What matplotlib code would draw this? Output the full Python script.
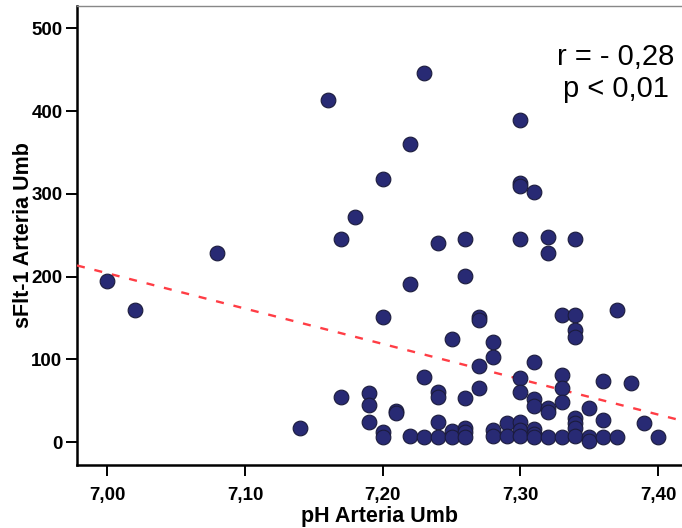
import numpy as np
import matplotlib
matplotlib.use("Agg")
import matplotlib.pyplot as plt

plt.rcParams["font.family"] = ["Liberation Sans", "DejaVu Sans"]

# ======================
# DATA
# ======================
ph_levels = [7.00, 7.02, 7.08, 7.14, 7.16, 7.17, 7.18, 7.19, 7.20, 7.21,
             7.22, 7.23, 7.24, 7.25, 7.26, 7.27, 7.28, 7.29, 7.30, 7.31,
             7.32, 7.33, 7.34, 7.35, 7.36, 7.37, 7.38, 7.39, 7.40]
sflt_at_level = [
    [195],
    [160],
    [229],
    [17],
    [414],
    [245, 55],
    [272],
    [59, 45, 24],
    [318, 151, 12, 6],
    [37, 35],
    [360, 191, 7],
    [446, 78, 6],
    [241, 60, 55, 24, 6],
    [124, 13, 6],
    [245, 201, 53, 17, 12, 6],
    [151, 147, 92, 65],
    [121, 103, 14, 7],
    [23, 7],
    [389, 313, 310, 245, 77, 61, 24, 14, 7],
    [302, 97, 52, 44, 16, 10, 6],
    [248, 228, 41, 36, 6],
    [154, 81, 65, 48, 6],
    [245, 154, 135, 127, 29, 23, 17, 7],
    [41, 6, 1],
    [74, 27, 6],
    [159, 6],
    [71],
    [23],
    [6],
]

# fitted line as drawn in the chart (value at pH 7.00, change per pH unit)
fit_at_700 = 204.0
fit_slope = -427.0

ph = np.concatenate([[p] * len(v) for p, v in zip(ph_levels, sflt_at_level)])
sflt = np.concatenate(sflt_at_level).astype(float)

x_ticks = [7.00, 7.10, 7.20, 7.30, 7.40]
y_ticks = [0, 100, 200, 300, 400, 500]
stats_text = "r = - 0,28\np < 0,01"

# ======================
# PLOT
# ======================
fig = plt.figure(figsize=(6.82, 5.28), dpi=100)
ax = fig.add_axes([0.1129, 0.1193, 0.8871, 0.8693])

xlim = (6.978, 7.4174)
ylim = (-27.8, 527)

xs = np.array(xlim)
ax.plot(xs, fit_at_700 + fit_slope * (xs - 7.0), color="#ff3d45",
        linewidth=1.7, dashes=(3.4, 4.2), zorder=3)

ax.scatter(ph, sflt, s=112, color="#282a74", edgecolors="#1b1b3c",
           linewidths=0.8, zorder=4)

ax.set_xlim(*xlim)
ax.set_ylim(*ylim)
ax.set_xticks(x_ticks)
ax.set_xticklabels([f"{t:.2f}".replace(".", ",") for t in x_ticks])
ax.set_yticks(y_ticks)
ax.tick_params(direction="out", length=8, width=1.4, labelsize=13.5,
               color="black")
ax.tick_params(axis="x", pad=8)
ax.tick_params(axis="y", pad=2.5)
for lab in ax.get_xticklabels() + ax.get_yticklabels():
    lab.set_fontweight("bold")

ax.spines["left"].set_linewidth(1.8)
ax.spines["bottom"].set_linewidth(1.8)
ax.spines["top"].set_color("#888888")
ax.spines["top"].set_linewidth(1.0)
ax.spines["right"].set_visible(False)

ax.set_xlabel("pH Arteria Umb", fontsize=15.5, fontweight="bold",
              labelpad=1.5)
ax.set_ylabel("sFlt-1 Arteria Umb", fontsize=15.5, fontweight="bold",
              labelpad=-2)

fig.text(616 / 682, 1 - 73 / 528, stats_text, ha="center", va="center",
         multialignment="center", fontsize=21, linespacing=1.15)

fig.savefig("out.png", dpi=100)
